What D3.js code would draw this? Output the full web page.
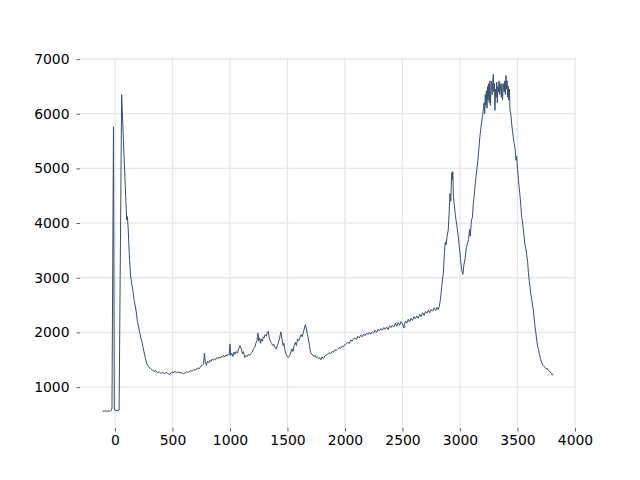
<!DOCTYPE html>
<html>
<head>
<meta charset="utf-8">
<script src="https://cdn.jsdelivr.net/npm/d3@7/dist/d3.min.js"></script>
<style>
  html, body { margin: 0; padding: 0; background: #ffffff; }
  svg { display: block; }
  text { font-family: "DejaVu Sans", sans-serif; }
</style>
</head>
<body>
<svg id="chart" width="640" height="480"></svg>
<script>
// ---- data ----
const wavenumbers = [
  -108, -90, -70, -50, -36, -30, -26, -13, -6, 0, 20, 36, 58, 70, 82, 95, 102, 108, 115, 125, 135, 145, 155, 165, 175, 185, 195,
  205, 215, 225, 235, 245, 255, 265, 275, 285, 295, 310, 325, 340, 355, 370, 385, 400, 415, 430, 445, 460, 475, 490,
  505, 520, 535, 550, 565, 580, 595, 610, 625, 640, 655, 670, 685, 700, 715, 730, 745, 760, 770, 778, 785, 795,
  805, 815, 825, 835, 845, 855, 865, 875, 885, 895, 905, 915, 925, 935, 945, 955, 965, 975, 985, 993, 1000, 1006,
  1015, 1025, 1035, 1045, 1055, 1065, 1075, 1087, 1098, 1108, 1118, 1128, 1140, 1150, 1160, 1172, 1185, 1195,
  1205, 1215, 1225, 1235, 1243, 1250, 1258, 1266, 1274, 1282, 1290, 1298, 1306, 1315, 1325, 1333, 1342, 1352,
  1362, 1372, 1382, 1392, 1402, 1412, 1422, 1432, 1442, 1452, 1462, 1470, 1478, 1488, 1498, 1508, 1518, 1528,
  1538, 1548, 1558, 1568, 1578, 1588, 1598, 1608, 1618, 1628, 1638, 1648, 1655, 1663, 1672, 1680, 1690, 1700,
  1710, 1720, 1730, 1740, 1750, 1760, 1770, 1780, 1790, 1800, 1812, 1825, 1838, 1850, 1862, 1875, 1888, 1900,
  1912, 1925, 1938, 1950, 1962, 1975, 1988, 2000, 2012, 2025, 2038, 2050, 2062, 2075, 2088, 2100, 2112, 2125,
  2138, 2150, 2162, 2175, 2188, 2200, 2212, 2225, 2238, 2250, 2262, 2275, 2288, 2300, 2312, 2325, 2338, 2350,
  2362, 2375, 2388, 2400, 2412, 2425, 2438, 2450, 2462, 2475, 2488, 2500, 2512, 2525, 2538, 2550, 2562, 2575,
  2588, 2600, 2612, 2625, 2638, 2650, 2662, 2675, 2688, 2700, 2712, 2725, 2738, 2750, 2762, 2775, 2788, 2800,
  2810, 2820, 2830, 2842, 2855, 2865, 2872, 2880, 2888, 2898, 2905, 2913, 2920, 2928, 2933, 2938, 2943, 2950,
  2958, 2966, 2975, 2985, 2995, 3005, 3015, 3025, 3035, 3045, 3055, 3065, 3075, 3083, 3090, 3100, 3108, 3116,
  3124, 3132, 3140, 3148, 3156, 3164, 3172, 3180, 3188, 3196, 3203, 3210, 3215, 3220, 3225, 3230, 3235, 3240,
  3245, 3250, 3255, 3260, 3265, 3270, 3275, 3280, 3285, 3290, 3295, 3300, 3304, 3310, 3315, 3320, 3325, 3330,
  3335, 3340, 3345, 3350, 3355, 3360, 3365, 3370, 3375, 3380, 3385, 3390, 3395, 3400, 3405, 3410, 3415, 3420,
  3425, 3430, 3435, 3442, 3449, 3456, 3464, 3472, 3480, 3487, 3493, 3500, 3508, 3515, 3522, 3530, 3537, 3542,
  3550, 3558, 3565, 3572, 3580, 3588, 3595, 3602, 3609, 3616, 3624, 3631, 3638, 3645, 3653, 3661, 3668, 3675,
  3683, 3690, 3700, 3710, 3720, 3730, 3740, 3750, 3760, 3770, 3780, 3790, 3797, 3803, 3813
];
const intensities = [
  560, 560, 561, 562, 565, 580, 620, 5760, 620, 575, 572, 580, 6350, 5700, 5060, 4400, 4060, 4120, 3900, 3400, 3050, 2900, 2780, 2600, 2500, 2380, 2200,
  2100, 2000, 1900, 1830, 1720, 1620, 1520, 1440, 1390, 1360, 1340, 1310, 1290, 1300, 1260, 1280, 1250, 1275, 1240, 1270, 1250, 1230, 1270,
  1260, 1285, 1270, 1275, 1260, 1265, 1245, 1260, 1280, 1270, 1300, 1290, 1320, 1310, 1350, 1330, 1380, 1400, 1420, 1620, 1460, 1400,
  1470, 1440, 1490, 1470, 1510, 1490, 1520, 1500, 1540, 1520, 1550, 1530, 1560, 1545, 1580, 1555, 1590, 1570, 1600, 1590, 1790, 1580,
  1620, 1560, 1640, 1600, 1650, 1620, 1700, 1760, 1700, 1610, 1650, 1540, 1580, 1560, 1600, 1580, 1620, 1640,
  1700, 1720, 1800, 1850, 1990, 1840, 1900, 1800, 1880, 1840, 1920, 1900, 1960, 1930, 2000, 2020, 1900, 1830,
  1800, 1760, 1780, 1720, 1700, 1760, 1820, 1900, 2010, 1880, 1760, 1800, 1680, 1600, 1560, 1540, 1580, 1620,
  1700, 1650, 1760, 1820, 1760, 1880, 1850, 1900, 1960, 1920, 2000, 2080, 2140, 2080, 1980, 1900, 1780, 1640,
  1600, 1590, 1560, 1580, 1545, 1560, 1520, 1540, 1500, 1550, 1520, 1570, 1590, 1600, 1630, 1610, 1650, 1640,
  1680, 1670, 1700, 1720, 1710, 1750, 1740, 1780, 1790, 1820, 1800, 1860, 1840, 1880, 1900, 1870, 1930, 1900,
  1950, 1920, 1970, 1940, 1990, 1960, 2000, 1970, 2010, 1990, 2040, 2000, 2060, 2030, 2070, 2040, 2090, 2060,
  2100, 2050, 2120, 2090, 2130, 2100, 2170, 2110, 2180, 2130, 2200, 2160, 2080, 2210, 2170, 2240, 2190, 2260,
  2220, 2290, 2250, 2300, 2260, 2330, 2290, 2360, 2310, 2380, 2350, 2410, 2360, 2420, 2390, 2450, 2400, 2460,
  2420, 2470, 2600, 2850, 3080, 3450, 3650, 3600, 3760, 3870, 4150, 4540, 4400, 4920, 4800, 4940, 4480, 4350,
  4180, 4050, 3930, 3750, 3560, 3350, 3150, 3060, 3250, 3350, 3550, 3620, 3700, 3880, 3760, 4060, 4100, 4360,
  4500, 4700, 4850, 5000, 5150, 5350, 5560, 5700, 5850, 5950, 6080, 6200, 6000, 6350, 6150, 6420, 6100, 6500,
  6250, 6550, 6200, 6600, 6150, 6450, 6600, 6350, 6550, 6718, 6400, 6550, 6060, 6450, 6300, 6580, 6200, 6500,
  6400, 6600, 6350, 6550, 6450, 6300, 6550, 6250, 6450, 6550, 6400, 6600, 6350, 6700, 6450, 6600, 6300, 6500,
  6250, 6450, 6060, 6000, 5830, 5700, 5560, 5450, 5350, 5150, 5220, 5000, 4800, 4650, 4500, 4300, 4100, 4050,
  3900, 3750, 3600, 3550, 3420, 3300, 3100, 2950, 2840, 2700, 2600, 2500, 2410, 2250, 2100, 1980, 1850, 1750,
  1680, 1620, 1520, 1450, 1400, 1380, 1360, 1330, 1340, 1300, 1290, 1260, 1250, 1220, 1240
];
const xTickValues = [0, 500, 1000, 1500, 2000, 2500, 3000, 3500, 4000];
const yTickValues = [1000, 2000, 3000, 4000, 5000, 6000, 7000];

const points = wavenumbers.map((w, i) => ({ x: w, y: intensities[i] }));

// ---- layout ----
const svg = d3.select("#chart");
const plotLeft = 80, plotRight = 576, plotTop = 57.6, plotBottom = 428;

function padded(ext) {
  const m = (ext[1] - ext[0]) * 0.05;
  return [ext[0] - m, ext[1] + m];
}
const x = d3.scaleLinear().domain(padded(d3.extent(wavenumbers))).range([plotLeft, plotRight]);
const y = d3.scaleLinear().domain(padded(d3.extent(intensities))).range([plotBottom, plotTop]);

// grid
const grid = svg.append("g");
grid.selectAll("line.vx").data(xTickValues).enter().append("line")
  .attr("x1", d => x(d)).attr("x2", d => x(d))
  .attr("y1", plotTop).attr("y2", plotBottom)
  .attr("stroke", "#e6e6e6").attr("stroke-width", 1.3);
grid.selectAll("line.hy").data(yTickValues).enter().append("line")
  .attr("x1", plotLeft).attr("x2", plotRight)
  .attr("y1", d => y(d)).attr("y2", d => y(d))
  .attr("stroke", "#e6e6e6").attr("stroke-width", 1.3);

// axes
const xAxis = svg.append("g").attr("transform", `translate(0,${plotBottom})`)
  .call(d3.axisBottom(x).tickValues(xTickValues).tickFormat(d3.format("d"))
    .tickSize(3.5).tickSizeOuter(0).tickPadding(3.5));
const yAxis = svg.append("g").attr("transform", `translate(${plotLeft},0)`)
  .call(d3.axisLeft(y).tickValues(yTickValues).tickFormat(d3.format("d"))
    .tickSize(3.5).tickSizeOuter(0).tickPadding(7));
[xAxis, yAxis].forEach(a => {
  a.select(".domain").remove();
  a.selectAll(".tick line").attr("stroke", "#333").attr("stroke-width", 0.8);
  a.selectAll(".tick text").attr("fill", "#000")
    .style("font-family", "'DejaVu Sans', sans-serif").style("font-size", "13.9px");
});

// line
const line = d3.line().x(d => x(d.x)).y(d => y(d.y));
svg.append("path").datum(points)
  .attr("d", line)
  .attr("fill", "none")
  .attr("stroke", "#34506f")
  .attr("stroke-width", 1)
  .attr("stroke-linejoin", "round");
</script>
</body>
</html>
